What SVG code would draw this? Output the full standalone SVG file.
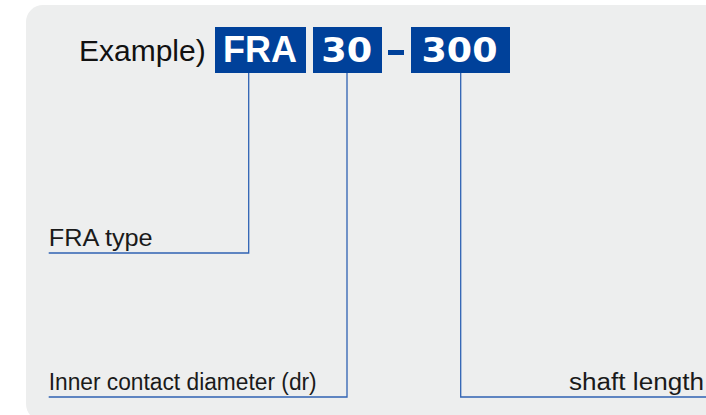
<svg xmlns="http://www.w3.org/2000/svg" width="706" height="415" viewBox="0 0 706 415">
<style>
.box{fill:#00419a}
.code{font-family:"DejaVu Sans",sans-serif;font-weight:bold;font-size:34px;fill:#fff}
.lbl{font-family:"Liberation Sans",Arial,sans-serif;font-size:23px;fill:#1a1a1a}
.ln{fill:none;stroke:#2f62b3;stroke-width:1.3}
</style>
<rect x="26" y="5" width="720" height="416" rx="17" fill="#edeeee"/>
<text x="79" y="61" font-family="Liberation Sans,Arial,sans-serif" font-size="30" fill="#111">Example)</text>
<g id="node-fra">
<rect class="box" x="215" y="27" width="91" height="46"/>
<text x="260" y="62" text-anchor="middle" font-family="Liberation Sans,Arial,sans-serif" font-weight="bold" font-size="36" fill="#fff">FRA</text>
</g>
<g id="node-30">
<rect class="box" x="313" y="27" width="69" height="46"/>
<text class="code" x="346.7" y="62" text-anchor="middle" textLength="51" lengthAdjust="spacingAndGlyphs">30</text>
</g>
<g id="node-dash">
<rect class="box" x="388" y="50" width="16" height="5"/>
</g>
<g id="node-300">
<rect class="box" x="411" y="27" width="99" height="46"/>
<text class="code" x="459.5" y="62" text-anchor="middle" textLength="76" lengthAdjust="spacingAndGlyphs">300</text>
</g>
<g id="label-fra-type">
<text class="lbl" x="48.7" y="246" textLength="104" lengthAdjust="spacingAndGlyphs">FRA type</text>
</g>
<g id="label-inner">
<text class="lbl" x="48.7" y="390" textLength="268" lengthAdjust="spacingAndGlyphs">Inner contact diameter (dr)</text>
</g>
<g id="label-shaft">
<text class="lbl" x="569" y="390" textLength="135" lengthAdjust="spacingAndGlyphs">shaft length</text>
</g>
<g id="connectors">
<polyline class="ln" points="248.7,73 248.7,253 48.7,253"/>
<polyline class="ln" points="347,73 347,397 48.7,397"/>
<polyline class="ln" points="460.7,73 460.7,397 706,397"/>
</g>
</svg>
